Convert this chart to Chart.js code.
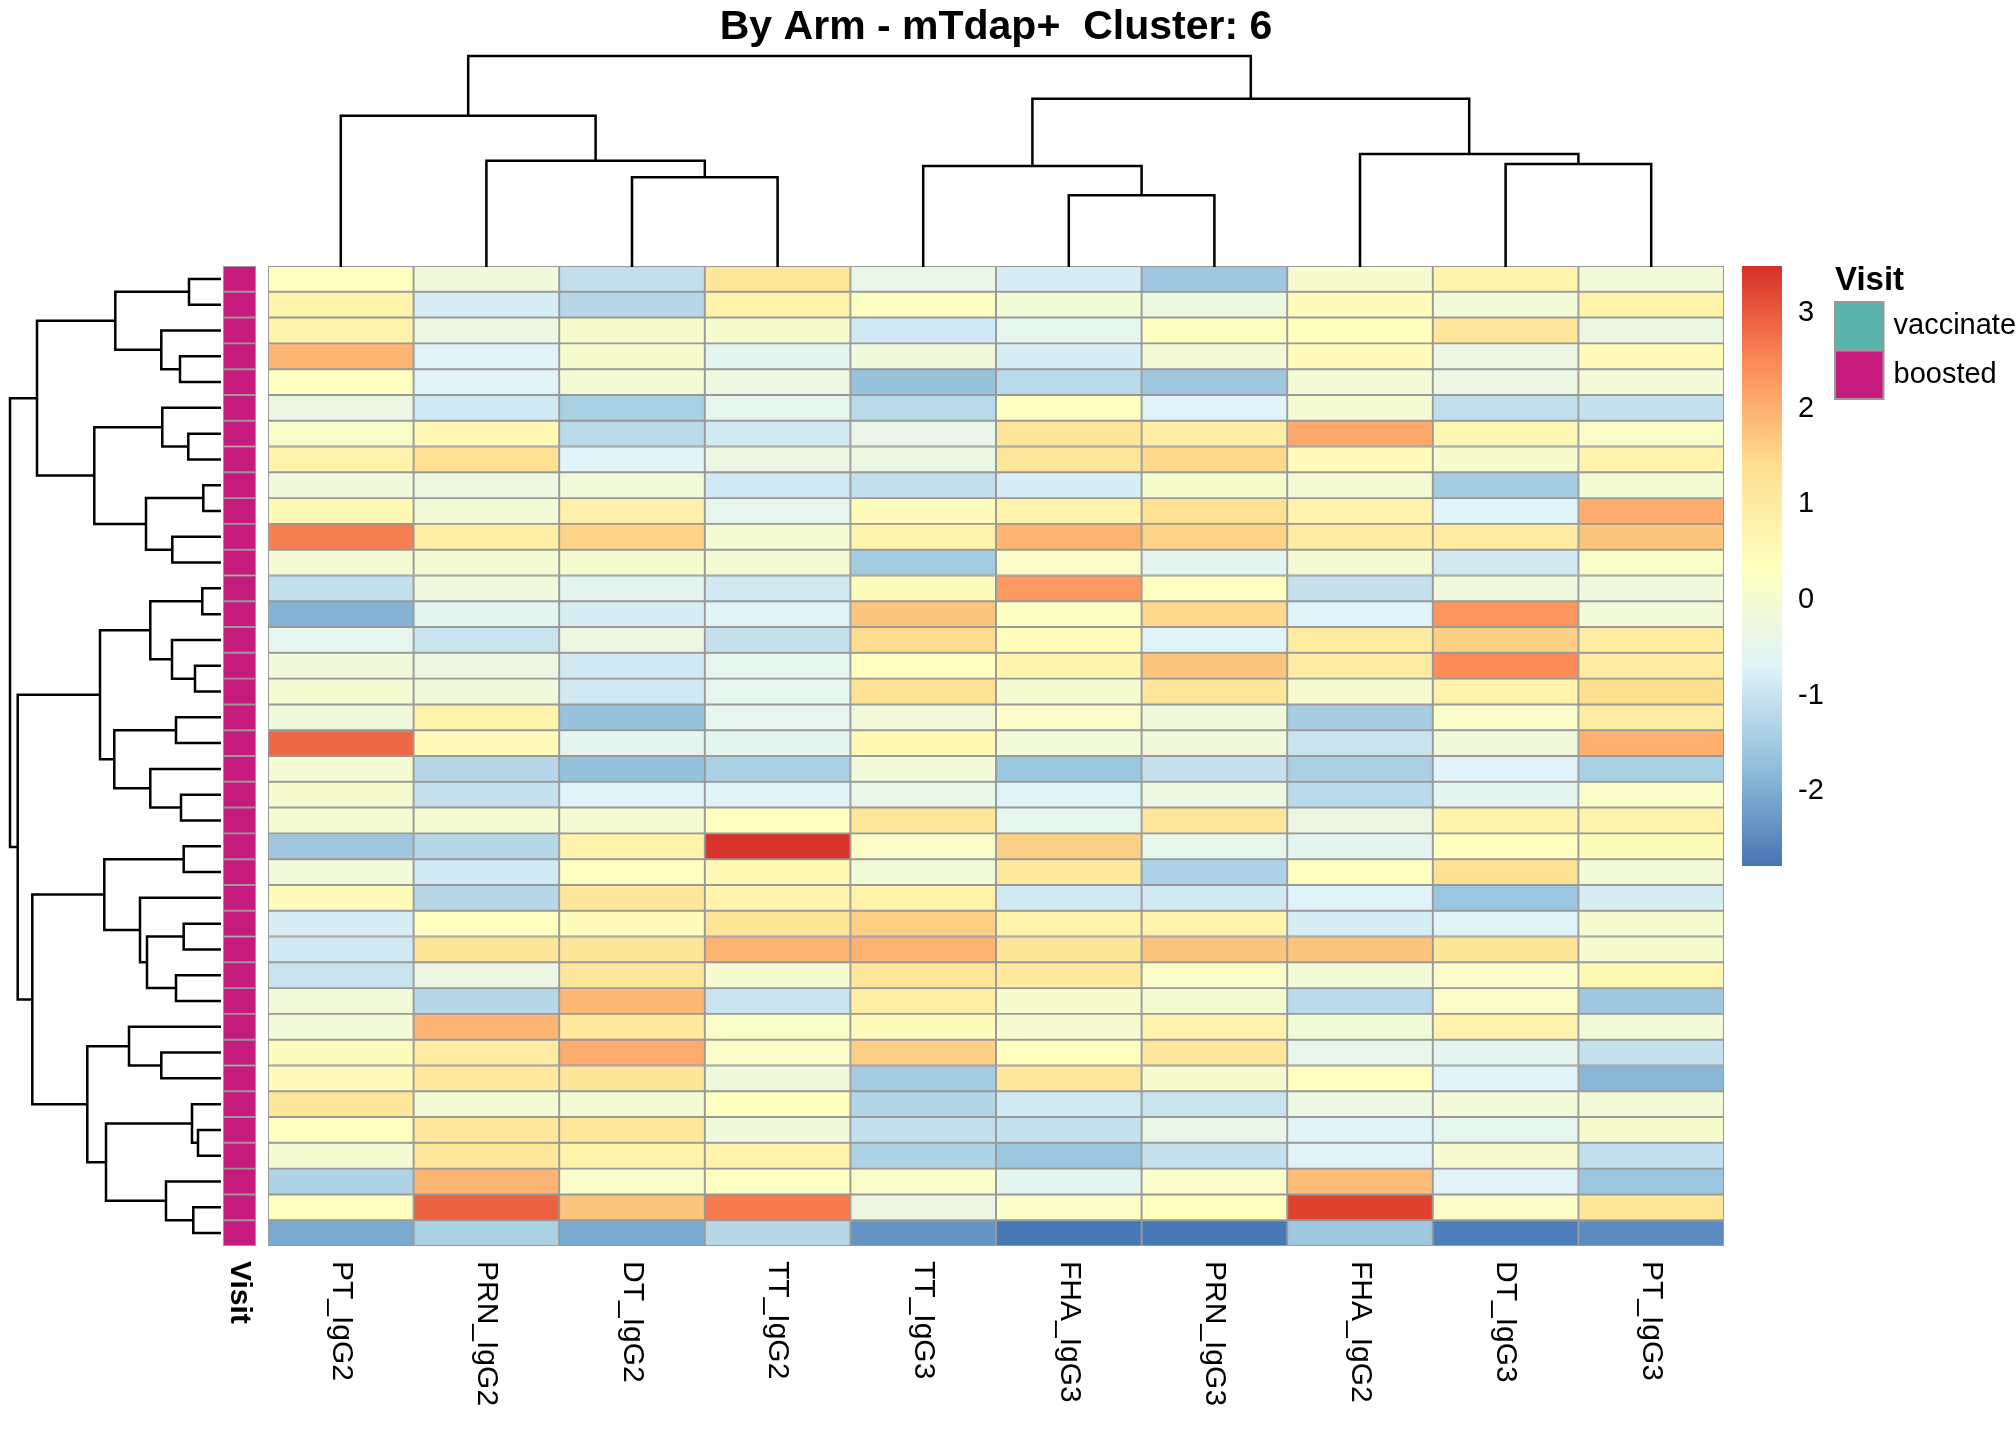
<!DOCTYPE html>
<html>
<head>
<meta charset="utf-8">
<title>By Arm - mTdap+ Cluster: 6</title>
<script src="https://cdn.jsdelivr.net/npm/chart.js@4.4.1/dist/chart.umd.min.js"></script>
<style>
  html, body { margin: 0; padding: 0; background: #ffffff; }
  #wrap { position: relative; width: 2016px; height: 1440px; overflow: hidden; background: #ffffff; }
  #wrap canvas { position: absolute; left: 0; top: 0; }
</style>
</head>
<body>
<div id="wrap">
  <canvas id="heat" width="2016" height="1440"></canvas>
  <canvas id="annot" width="2016" height="1440"></canvas>
  <canvas id="rowTree" width="2016" height="1440"></canvas>
  <canvas id="colTree" width="2016" height="1440"></canvas>
  <canvas id="scale" width="2016" height="1440"></canvas>
</div>
<script>
// ---- data ----
const titleText = 'By Arm - mTdap+  Cluster: 6';
const colLabels = ['PT_IgG2', 'PRN_IgG2', 'DT_IgG2', 'TT_IgG2', 'TT_IgG3',
                   'FHA_IgG3', 'PRN_IgG3', 'FHA_IgG2', 'DT_IgG3', 'PT_IgG3'];

// scaled values per column, rows top to bottom
const PT_IgG2  = [0.35, 0.8, 0.8, 1.95, 0.35, -0.3, 0.2, 0.8, -0.15, 0.55, 2.6, 0.0, -1.1, -1.9, -0.5, -0.15, 0.0, -0.15, 2.85, 0.0, 0.05, 0.0, -1.55, -0.1, 0.45, -0.8, -0.9, -1.0, -0.1, -0.1, 0.45, 0.45, 1.15, 0.35, 0.0, -1.35, 0.35, -2.05];
const PRN_IgG2 = [-0.15, -0.8, -0.3, -0.7, -0.7, -0.9, 0.55, 1.35, -0.25, -0.1, 0.9, 0.0, -0.15, -0.55, -1.0, -0.3, -0.15, 0.8, 0.45, -1.25, -1.05, 0.0, -1.25, -0.9, -1.25, 0.35, 1.2, -0.3, -1.25, 1.95, 1.0, 1.1, 0.0, 1.15, 1.15, 1.95, 2.95, -1.4];
const DT_IgG2  = [-1.1, -1.25, 0.1, 0.05, 0.0, -1.4, -1.2, -0.7, -0.1, 0.85, 1.55, 0.05, -0.55, -0.8, -0.25, -0.9, -0.9, -1.65, -0.55, -1.7, -0.7, 0.0, 0.8, 0.35, 1.15, 0.45, 1.2, 1.15, 1.9, 1.1, 2.05, 1.2, 0.0, 1.15, 0.8, 0.2, 1.75, -2.05];
const TT_IgG2  = [1.15, 0.8, 0.05, -0.55, -0.25, -0.5, -0.9, -0.3, -0.9, -0.5, 0.0, 0.0, -0.9, -0.65, -1.05, -0.5, -0.5, -0.5, -0.55, -1.4, -0.7, 0.35, 3.45, 0.55, 0.75, 1.2, 1.95, 0.05, -1.0, 0.2, 0.2, -0.15, 0.35, -0.15, 0.8, 0.35, 2.65, -1.25];
const TT_IgG3  = [-0.4, 0.3, -0.9, -0.15, -1.65, -1.2, -0.4, -0.3, -1.1, 0.45, 0.8, -1.5, 0.45, 1.75, 1.45, 0.35, 1.3, -0.1, 0.55, -0.1, -0.4, 1.15, 0.2, -0.1, 0.8, 1.6, 1.95, 1.15, 0.9, 0.45, 1.6, -1.5, -1.3, -1.1, -1.35, 0.2, -0.3, -2.35];
const FHA_IgG3 = [-0.8, -0.1, -0.5, -0.8, -1.2, 0.35, 1.15, 1.15, -0.8, 0.8, 1.95, 0.2, 2.3, 0.3, 0.4, 0.75, 0.0, 0.2, -0.1, -1.6, -0.7, -0.5, 1.6, 1.1, -0.9, 0.8, 1.2, 1.1, 0.05, 0.05, 0.35, 1.15, -0.9, -1.05, -1.6, -0.55, 0.2, -2.75];
const PRN_IgG3 = [-1.55, -0.25, 0.3, -0.05, -1.55, -0.7, 0.9, 1.5, 0.1, 1.35, 1.55, -0.55, 0.35, 1.5, -0.7, 1.75, 1.15, -0.15, -0.15, -1.05, -0.25, 1.15, -0.45, -1.35, -0.9, 0.75, 1.75, 0.2, 0.0, 0.75, 1.15, 0.05, -1.0, -0.4, -1.05, 0.2, 0.35, -2.75];
const FHA_IgG2 = [0.05, 0.45, 0.4, 0.45, -0.05, 0.0, 2.1, 0.45, 0.0, 0.8, 1.0, 0.0, -1.05, -0.7, 1.0, 1.0, 0.05, -1.45, -1.0, -1.4, -1.2, -0.3, -0.55, 0.35, -0.7, -0.8, 1.75, -0.1, -1.2, -0.1, -0.45, 0.35, -0.25, -0.7, -0.7, 1.85, 3.3, -1.55];
const DT_IgG3  = [0.7, -0.1, 1.15, -0.3, -0.3, -1.1, 0.6, 0.05, -1.45, -0.7, 1.0, -0.9, -0.15, 2.35, 1.6, 2.45, 0.8, 0.2, -0.15, -0.7, -0.55, 0.75, 0.35, 1.35, -1.6, -0.7, 1.2, 0.2, 0.2, 0.75, -0.55, -0.7, -0.1, -0.5, 0.05, -0.7, 0.2, -2.65];
const PT_IgG3  = [-0.1, 0.8, -0.3, 0.5, -0.1, -1.05, 0.2, 0.75, 0.0, 2.05, 1.75, 0.2, -0.15, -0.1, 1.0, 1.0, 1.4, 1.0, 2.0, -1.4, 0.2, 0.75, 0.5, -0.1, -0.8, 0.05, 0.05, 0.6, -1.55, -0.1, -1.05, -1.85, -0.1, 0.1, -1.1, -1.6, 1.15, -2.45];
const columns = [PT_IgG2, PRN_IgG2, DT_IgG2, TT_IgG2, TT_IgG3, FHA_IgG3, PRN_IgG3, FHA_IgG2, DT_IgG3, PT_IgG3];

// row annotation
const visitLevels = ['vaccinated', 'boosted'];
const visitColors = ['#5AB4AC', '#C51B7D'];
const rowVisit = PT_IgG2.map(() => 'boosted');

// hclust style merges: -k = leaf k (1-based), +k = earlier merge k
const rowMerges = [[-1, -2], [-4, -5], [-3, 2], [1, 3], [-7, -8], [-6, 5], [-9, -10], [-11, -12], [7, 8], [6, 9],
                   [4, 10], [-13, -14], [-16, -17], [-15, 13], [12, 14], [-18, -19], [-21, -22], [-20, 17], [16, 18], [15, 19],
                   [-23, -24], [-26, -27], [-28, -29], [22, 23], [-25, 24], [21, 25], [-31, -32], [-30, 27], [-34, -35], [-33, 29],
                   [-37, -38], [-36, 31], [30, 32], [28, 33], [26, 34], [20, 35], [11, 36]];
const rowHeights = [32, 41, 59.7, 105.7, 32.7, 58.7, 17.7, 48.7, 75, 126.7,
                    184, 18.7, 26, 49, 70.7, 45, 40, 70.7, 106.7, 121,
                    37.3, 37.3, 45, 74, 81, 116.7, 59.7, 92, 23, 29,
                    27.7, 55, 115, 133.7, 188.7, 203.3, 211];
const colMerges = [[-3, -4], [-2, 1], [-1, 2], [-6, -7], [-5, 4], [-9, -10], [-8, 6], [5, 7], [3, 8]];
const colHeights = [89.8, 106.3, 151.2, 71.7, 100.9, 102.9, 113, 168.3, 210.9];

// colour scale
const scaleMin = -2.78;
const scaleMax = 3.49;
const scaleTicks = [-2, -1, 0, 1, 2, 3];
const palette = ['#4575B4', '#91BFDB', '#E0F3F8', '#FFFFBF', '#FEE090', '#FC8D59', '#D73027'];

// ---- helpers ----
const FONT = '"Liberation Sans", Arial, Helvetica, sans-serif';
Chart.defaults.font.family = FONT;

function hexRgb(h) {
  return [parseInt(h.substr(1, 2), 16), parseInt(h.substr(3, 2), 16), parseInt(h.substr(5, 2), 16)];
}
function colorFor(v) {
  let t = (v - scaleMin) / (scaleMax - scaleMin);
  t = Math.max(0, Math.min(1, t)) * (palette.length - 1);
  const i = Math.min(Math.floor(t), palette.length - 2), f = t - i;
  const a = hexRgb(palette[i]), b = hexRgb(palette[i + 1]);
  const c = a.map((x, k) => Math.round(x + (b[k] - x) * f));
  return `rgb(${c[0]},${c[1]},${c[2]})`;
}

function treePaths(merges, heights) {
  const pos = [], hgt = [], paths = [];
  const node = k => k < 0 ? { p: -k - 0.5, h: 0 } : { p: pos[k - 1], h: hgt[k - 1] };
  merges.forEach(([a, b], i) => {
    const A = node(a), B = node(b), h = heights[i];
    paths.push([[A.p, A.h], [A.p, h], [B.p, h], [B.p, B.h]]);
    pos.push((A.p + B.p) / 2);
    hgt.push(h);
  });
  return paths;
}

const nRows = PT_IgG2.length;
const rowIdx = PT_IgG2.map((_, i) => i);

const common = {
  responsive: false,
  animation: false,
  devicePixelRatio: 1,
  events: [],
  plugins: { legend: { display: false }, tooltip: { enabled: false } }
};

// heat map box on the page
const box = { left: 268, top: 266, right: 1724, bottom: 1246 };
const W = 2016, H = 1440;

// ---- heat map ----
const heatLabels = {
  id: 'heatLabels',
  afterDraw(chart) {
    const ctx = chart.ctx, xs = chart.scales.x, area = chart.chartArea;
    ctx.save();
    ctx.fillStyle = '#000';
    ctx.font = `30px ${FONT}`;
    ctx.textAlign = 'left';
    ctx.textBaseline = 'middle';
    colLabels.forEach((lab, i) => {
      ctx.save();
      ctx.translate(xs.getPixelForValue(i), area.bottom + 15);
      ctx.rotate(Math.PI / 2);
      ctx.fillText(lab, 0, 0);
      ctx.restore();
    });
    ctx.font = `bold 41px ${FONT}`;
    ctx.textAlign = 'center';
    ctx.textBaseline = 'alphabetic';
    ctx.fillText(titleText, (area.left + area.right) / 2, 39);
    ctx.restore();
  }
};

new Chart(document.getElementById('heat'), {
  type: 'bar',
  data: {
    labels: colLabels,
    datasets: rowIdx.map(r => ({
      data: colLabels.map(() => [r, r + 1]),
      backgroundColor: columns.map(col => colorFor(col[r])),
      borderColor: '#999999',
      borderWidth: 1.3,
      borderSkipped: false,
      grouped: false,
      barPercentage: 1,
      categoryPercentage: 1
    }))
  },
  options: {
    ...common,
    layout: { padding: { left: box.left, top: box.top, right: W - box.right, bottom: H - box.bottom } },
    scales: {
      x: { display: false },
      y: { display: false, min: 0, max: nRows, reverse: true }
    }
  },
  plugins: [heatLabels]
});

// ---- Visit annotation strip ----
const annotLabel = {
  id: 'annotLabel',
  afterDraw(chart) {
    const ctx = chart.ctx, area = chart.chartArea;
    ctx.save();
    ctx.fillStyle = '#000';
    ctx.font = `bold 30px ${FONT}`;
    ctx.textAlign = 'left';
    ctx.textBaseline = 'middle';
    ctx.translate((area.left + area.right) / 2, area.bottom + 15);
    ctx.rotate(Math.PI / 2);
    ctx.fillText('Visit', 0, 0);
    ctx.restore();
  }
};

new Chart(document.getElementById('annot'), {
  type: 'bar',
  data: {
    labels: rowIdx.map(String),
    datasets: [{
      data: rowIdx.map(() => [0, 1]),
      backgroundColor: rowVisit.map(v => visitColors[visitLevels.indexOf(v)]),
      borderColor: '#999999',
      borderWidth: 1.3,
      borderSkipped: false,
      barPercentage: 1,
      categoryPercentage: 1
    }]
  },
  options: {
    ...common,
    indexAxis: 'y',
    layout: { padding: { left: 223, top: box.top, right: W - 256, bottom: H - box.bottom } },
    scales: {
      x: { display: false, min: 0, max: 1 },
      y: { display: false }
    }
  },
  plugins: [annotLabel]
});

// ---- row dendrogram ----
new Chart(document.getElementById('rowTree'), {
  type: 'scatter',
  data: {
    datasets: treePaths(rowMerges, rowHeights).map(path => ({
      data: path.map(([p, h]) => ({ x: h, y: p })),
      showLine: true,
      borderColor: '#000',
      borderWidth: 2.5,
      pointRadius: 0,
      clip: false
    }))
  },
  options: {
    ...common,
    layout: { padding: { left: 10, top: box.top, right: W - 221, bottom: H - box.bottom } },
    scales: {
      x: { type: 'linear', display: false, min: 0, max: 211, reverse: true },
      y: { type: 'linear', display: false, min: 0, max: nRows, reverse: true }
    }
  }
});

// ---- column dendrogram ----
new Chart(document.getElementById('colTree'), {
  type: 'scatter',
  data: {
    datasets: treePaths(colMerges, colHeights).map(path => ({
      data: path.map(([p, h]) => ({ x: p, y: h })),
      showLine: true,
      borderColor: '#000',
      borderWidth: 2.5,
      pointRadius: 0,
      clip: false
    }))
  },
  options: {
    ...common,
    layout: { padding: { left: box.left, top: 56, right: W - box.right, bottom: H - 267 } },
    scales: {
      x: { type: 'linear', display: false, min: 0, max: colLabels.length },
      y: { type: 'linear', display: false, min: 0, max: 211 }
    }
  }
});

// ---- colour key and Visit legend ----
const keyLabels = {
  id: 'keyLabels',
  afterDraw(chart) {
    const ctx = chart.ctx, ys = chart.scales.y, area = chart.chartArea;
    ctx.save();
    ctx.fillStyle = '#000';
    ctx.font = `29px ${FONT}`;
    ctx.textAlign = 'left';
    ctx.textBaseline = 'middle';
    scaleTicks.forEach(t => ctx.fillText(String(t), area.right + 16, ys.getPixelForValue(t)));

    // Visit legend
    const lx = 1835, ly = 302, sw = 48.5;
    ctx.font = `bold 33px ${FONT}`;
    ctx.fillText('Visit', lx, 281);
    ctx.font = `29px ${FONT}`;
    visitLevels.forEach((lev, i) => {
      const y0 = ly + i * sw;
      ctx.fillStyle = visitColors[i];
      ctx.fillRect(lx, y0, sw, sw);
      ctx.strokeStyle = '#999999';
      ctx.lineWidth = 2;
      ctx.strokeRect(lx, y0, sw, sw);
      ctx.fillStyle = '#000';
      ctx.fillText(lev, lx + sw + 10, y0 + sw / 2);
    });
    ctx.restore();
  }
};

new Chart(document.getElementById('scale'), {
  type: 'bar',
  data: {
    labels: ['key'],
    datasets: [{
      data: [[scaleMin, scaleMax]],
      backgroundColor(context) {
        const area = context.chart.chartArea;
        if (!area) return palette[3];
        const g = context.chart.ctx.createLinearGradient(0, area.bottom, 0, area.top);
        palette.forEach((c, i) => g.addColorStop(i / (palette.length - 1), c));
        return g;
      },
      borderWidth: 0,
      barPercentage: 1,
      categoryPercentage: 1
    }]
  },
  options: {
    ...common,
    layout: { padding: { left: 1742, top: 266, right: W - 1782, bottom: H - 866 } },
    scales: {
      x: { display: false },
      y: { display: false, min: scaleMin, max: scaleMax }
    }
  },
  plugins: [keyLabels]
});
</script>
</body>
</html>
